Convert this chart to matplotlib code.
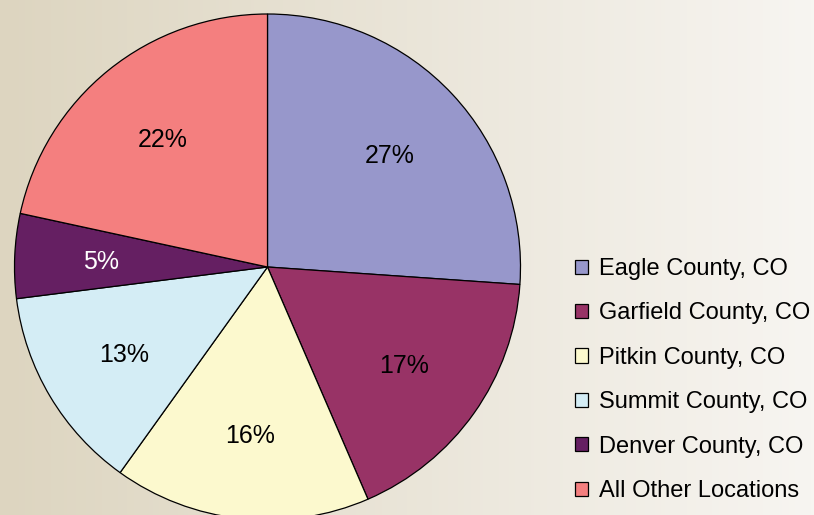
import numpy as np
import matplotlib.pyplot as plt

plt.rcParams['font.family'] = ['Liberation Sans', 'DejaVu Sans']

locations = ['Eagle County, CO', 'Garfield County, CO', 'Pitkin County, CO',
             'Summit County, CO', 'Denver County, CO', 'All Other Locations']
# slice sizes as drawn in the picture, and the labels printed on them
shares = [26.1, 17.4, 16.4, 13.1, 5.4, 21.6]
pct_labels = ['27%', '17%', '16%', '13%', '5%', '22%']
colors = ['#9797CB', '#983366', '#FCF9CE', '#D4EDF5', '#651F62', '#F47F7F']
label_colors = ['black', 'black', 'black', 'black', 'white', 'black']

W, H = 814, 515
fig = plt.figure(figsize=(W / 100, H / 100), dpi=100)

# background gradient, beige on the left fading to off-white
bg = fig.add_axes([0, 0, 1, 1], zorder=-10)
grad = np.linspace(0, 1, 256)[None, :]
c0 = np.array([0xDD, 0xD5, 0xC0]) / 255
c1 = np.array([0xF7, 0xF5, 0xF1]) / 255
img = c0[None, None, :] * (1 - grad[..., None]) + c1[None, None, :] * grad[..., None]
bg.imshow(img, aspect='auto', extent=[0, 1, 0, 1])
bg.set_axis_off()

# pie axes sized in pixels: centre (267.5, 267), radius 253
cx, cy, r = 267.5, 267, 253
ax = fig.add_axes([(cx - r) / W, (H - cy - r) / H, 2 * r / W, 2 * r / H])
wedges, _ = ax.pie(shares, colors=colors, startangle=90, counterclock=False,
                   wedgeprops=dict(edgecolor='black', linewidth=0.9))
for w, txt, col in zip(wedges, pct_labels, label_colors):
    mid = np.deg2rad((w.theta1 + w.theta2) / 2)
    ax.text(0.66 * np.cos(mid), 0.66 * np.sin(mid), txt, fontsize=18,
            color=col, ha='center', va='center_baseline')
ax.set_xlim(-1, 1)
ax.set_ylim(-1, 1)

leg = fig.legend(wedges, locations, loc='upper left',
                 bbox_to_anchor=(575 / W, 1 - 258 / H),
                 frameon=False, fontsize=17, handlelength=0.55, handleheight=0.55,
                 handletextpad=0.45, labelspacing=0.95, borderpad=0, borderaxespad=0)

plt.savefig('out.png', dpi=100)
